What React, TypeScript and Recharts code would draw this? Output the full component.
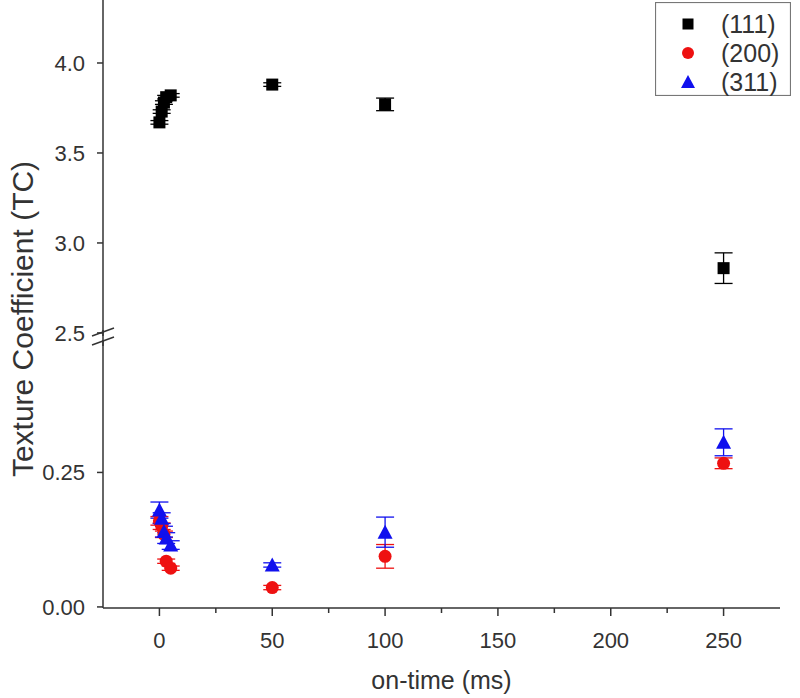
import React from "react";
import { ScatterChart, Scatter, XAxis, YAxis, ErrorBar, Legend } from "recharts";

const onTime = [0, 1, 2, 3, 5, 50, 100, 250];
const tc111 = [3.67, 3.73, 3.78, 3.81, 3.82, 3.88, 3.77, 2.86];
const err111 = [0.01, 0.01, 0.01, 0.01, 0.01, 0.01, 0.035, 0.085];
const tc200 = [0.16, 0.15, 0.135, 0.085, 0.072, 0.036, 0.094, 0.267];
const err200 = [0.008, 0.006, 0.006, 0.004, 0.004, 0.004, 0.022, 0.01];
const tc311 = [0.18, 0.165, 0.14, 0.128, 0.115, 0.078, 0.139, 0.306];
const err311 = [0.015, 0.01, 0.01, 0.01, 0.008, 0.004, 0.028, 0.025];

const xTicks = [0, 25, 50, 75, 100, 125, 150, 175, 200, 225, 250];
const upperTicks = [2.5, 3.0, 3.5, 4.0];
const lowerTicks = [0, 0.25];
const seriesNames = ["(111)", "(200)", "(311)"];

const d111 = onTime.map((t, i) => ({ t, v: tc111[i], e: err111[i] }));
const d200 = onTime.map((t, i) => ({ t, v: tc200[i], e: err200[i] }));
const d311 = onTime.map((t, i) => ({ t, v: tc311[i], e: err311[i] }));

const FONT = "'Liberation Sans', Arial, sans-serif";
const AX = "#333";

const Square = (p: any) => <rect x={p.cx - 6} y={p.cy - 6} width={12} height={12} fill="#000" />;
const Circle = (p: any) => <circle cx={p.cx} cy={p.cy} r={6.5} fill="#ee1111" />;
const Tri = (p: any) => (
  <polygon points={`${p.cx},${p.cy - 7.5} ${p.cx - 7.5},${p.cy + 6.5} ${p.cx + 7.5},${p.cy + 6.5}`} fill="#1010ee" />
);

const XTick = (props: any) => {
  const { x, y, payload } = props;
  const major = payload.value % 50 === 0;
  return (
    <g>
      <line x1={x} x2={x} y1={y} y2={y + (major ? 8 : 5)} stroke={AX} strokeWidth={1.5} />
      {major && (
        <text x={x} y={y + 40} textAnchor="middle" fontSize={22} fill={AX} fontFamily={FONT}>
          {payload.value}
        </text>
      )}
    </g>
  );
};

const LegendBox = () => {
  const rows = [
    { name: seriesNames[0], mark: <rect x={-5.5} y={-5.5} width={11} height={11} fill="#000" /> },
    { name: seriesNames[1], mark: <circle cx={0} cy={0} r={6} fill="#ee1111" /> },
    { name: seriesNames[2], mark: <polygon points="0,-7 -7,6 7,6" fill="#1010ee" /> },
  ];
  return (
    <svg width={136} height={94} style={{ display: "block" }}>
      <rect x={0.5} y={0.5} width={135} height={93} fill="#fff" stroke="#777" strokeWidth={1.2} />
      {rows.map((r, i) => (
        <g key={r.name} transform={`translate(33, ${22 + i * 29})`}>
          {r.mark}
          <text x={33} y={8.5} fontSize={25} fill={AX} fontFamily={FONT}>
            {r.name}
          </text>
        </g>
      ))}
    </svg>
  );
};

const yTickStyle = { fontSize: 22, fill: AX, fontFamily: FONT };

export default function App() {
  return (
    <div style={{ position: "absolute", top: 0, left: 0, width: 800, height: 698, background: "#fff" }}>
      <style>{`.recharts-surface { overflow: visible; }`}</style>
      <div style={{ position: "absolute", top: 0, left: 0 }}>
        <ScatterChart width={800} height={336} margin={{ top: 0, right: 20, left: 0, bottom: 0 }}>
          <XAxis type="number" dataKey="t" domain={[-25, 275]} hide allowDataOverflow />
          <YAxis
            type="number"
            dataKey="v"
            width={103}
            domain={[2.483, 4.35]}
            ticks={upperTicks}
            interval={0}
            tickFormatter={(v: number) => v.toFixed(1)}
            allowDataOverflow
            axisLine={{ stroke: AX, strokeWidth: 1.5 }}
            tickLine={{ stroke: AX, strokeWidth: 1.5 }}
            tickSize={6}
            tickMargin={12}
            tick={yTickStyle}
          />
          <Legend
            verticalAlign="middle"
            align="center"
            layout="vertical"
            wrapperStyle={{ top: 2, left: 655, width: 136, height: 94 }}
            content={() => <LegendBox />}
          />
          <Scatter name={seriesNames[0]} data={d111} shape={Square} isAnimationActive={false}>
            <ErrorBar dataKey="e" direction="y" width={9} stroke="#000" strokeWidth={1.3} />
          </Scatter>
        </ScatterChart>
      </div>
      <div style={{ position: "absolute", top: 340, left: 0 }}>
        <ScatterChart width={800} height={358} margin={{ top: 0, right: 20, left: 0, bottom: 0 }}>
          <XAxis
            type="number"
            dataKey="t"
            domain={[-25, 275]}
            ticks={xTicks}
            allowDataOverflow
            height={90}
            tickSize={0}
            tickMargin={0}
            tickLine={false}
            axisLine={{ stroke: AX, strokeWidth: 1.5 }}
            tick={<XTick />}
            interval={0}
            label={{ value: "on-time (ms)", position: "insideBottom", offset: 9, fontSize: 25, fill: AX, fontFamily: FONT }}
          />
          <YAxis
            type="number"
            dataKey="v"
            width={103}
            domain={[-0.002, 0.4962]}
            ticks={lowerTicks}
            interval={0}
            tickFormatter={(v: number) => v.toFixed(2)}
            allowDataOverflow
            axisLine={{ stroke: AX, strokeWidth: 1.5 }}
            tickLine={{ stroke: AX, strokeWidth: 1.5 }}
            tickSize={6}
            tickMargin={12}
            tick={yTickStyle}
          />
          <Scatter name={seriesNames[1]} data={d200} shape={Circle} isAnimationActive={false}>
            <ErrorBar dataKey="e" direction="y" width={9} stroke="#ee1111" strokeWidth={1.3} />
          </Scatter>
          <Scatter name={seriesNames[2]} data={d311} shape={Tri} isAnimationActive={false}>
            <ErrorBar dataKey="e" direction="y" width={9} stroke="#1010ee" strokeWidth={1.3} />
          </Scatter>
        </ScatterChart>
      </div>
      <svg width={800} height={698} style={{ position: "absolute", top: 0, left: 0, pointerEvents: "none" }}>
        <line x1={103} x2={103} y1={330} y2={346} stroke={AX} strokeWidth={1.5} />
        <line x1={92} y1={336} x2={114} y2={328} stroke={AX} strokeWidth={1.5} />
        <line x1={92} y1={345} x2={114} y2={337} stroke={AX} strokeWidth={1.5} />
        <text
          x={0}
          y={0}
          transform="translate(33, 319) rotate(-90)"
          textAnchor="middle"
          fontSize={30}
          fill={AX}
          fontFamily={FONT}
        >
          Texture Coefficient (TC)
        </text>
      </svg>
    </div>
  );
}
